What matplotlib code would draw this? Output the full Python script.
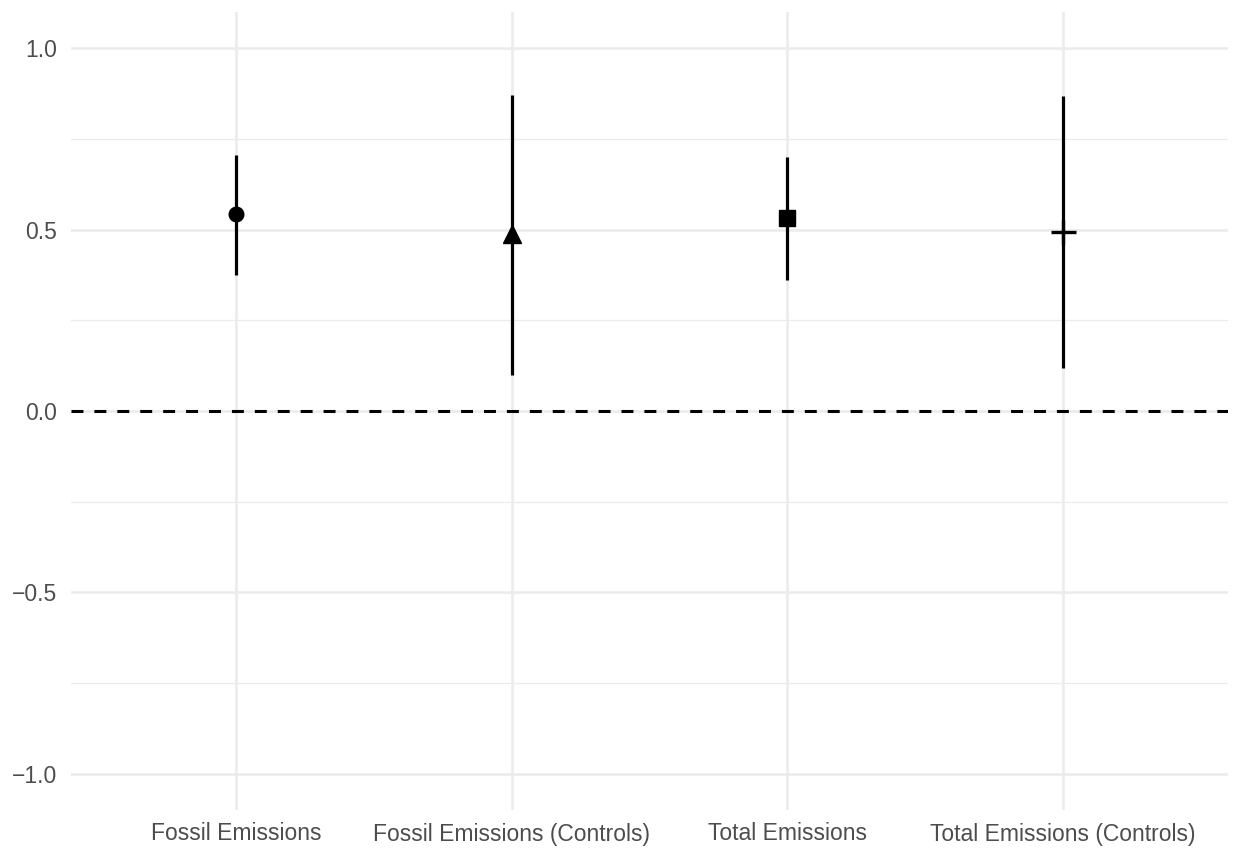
"""Coefficient plot: point estimates with confidence intervals for four emission models."""

import matplotlib.pyplot as plt
import numpy as np

plt.rcParams["font.family"] = ["Liberation Sans", "DejaVu Sans"]
plt.rcParams["lines.scale_dashes"] = False

MODELS = [
    "Fossil Emissions",
    "Fossil Emissions (Controls)",
    "Total Emissions",
    "Total Emissions (Controls)",
]
ESTIMATE = [0.543, 0.488, 0.531, 0.494]
LOWER = [0.376, 0.098, 0.361, 0.119]
UPPER = [0.707, 0.872, 0.701, 0.869]
YTICKS = [-1.0, -0.5, 0.0, 0.5, 1.0]
YMINOR = [-0.75, -0.25, 0.25, 0.75]

MARKERS = [
    dict(marker="o", markersize=10.5),
    dict(marker="^", markersize=13),
    dict(marker="s", markersize=11),
    dict(marker="+", markersize=18, markeredgewidth=2.4),
]

GRID = "#ebebeb"
TEXT = "#4d4d4d"


def main() -> None:
    fig = plt.figure(figsize=(12.33, 8.52), dpi=100)
    ax = fig.add_axes([71 / 1233, 42 / 852, 1157 / 1233, 798 / 852])

    x = np.arange(1, len(MODELS) + 1)

    # ggplot-like panel grid
    for y in YMINOR:
        ax.axhline(y, color=GRID, linewidth=0.9, zorder=0)
    for y in YTICKS:
        ax.axhline(y, color=GRID, linewidth=1.8, zorder=0)
    for xi in x:
        ax.axvline(xi, color=GRID, linewidth=1.8, zorder=0)

    ax.axhline(0.0, color="black", linewidth=2.2, dashes=(8.6, 7.9), zorder=1)

    for xi, est, lo, hi, style in zip(x, ESTIMATE, LOWER, UPPER, MARKERS):
        ax.vlines(xi, lo, hi, color="black", linewidth=2.3, zorder=2)
        ax.plot([xi], [est], color="black", linestyle="none", zorder=3, **style)

    ax.set_xlim(0.4, 4.6)
    ax.set_ylim(-1.1, 1.1)
    ax.set_xticks(x)
    ax.set_xticklabels(MODELS)
    ax.set_yticks(YTICKS)
    ax.set_yticklabels([f"{v:.1f}".replace("-", "\u2212") for v in YTICKS])
    ax.tick_params(axis="both", length=0, labelsize=16.5, labelcolor=TEXT)
    ax.tick_params(axis="x", pad=9)
    ax.tick_params(axis="y", pad=10)
    for spine in ax.spines.values():
        spine.set_visible(False)

    fig.savefig("out.png", dpi=100, facecolor="white")


if __name__ == "__main__":
    main()
